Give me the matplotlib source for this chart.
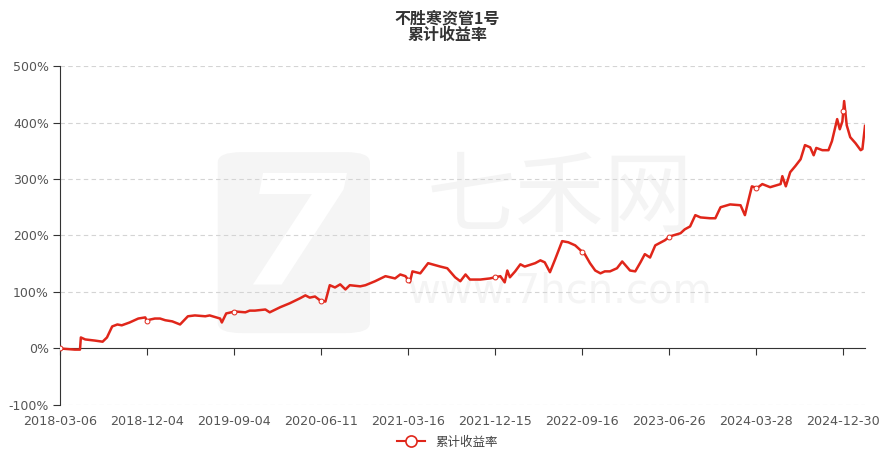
import matplotlib.pyplot as plt
import numpy as np
from matplotlib.patches import FancyBboxPatch

# 横轴：类目轴位置（以刻度间隔为单位），纵轴：累计收益率（%）
tick_labels = ["2018-03-06", "2018-12-04", "2019-09-04", "2020-06-11", "2021-03-16",
               "2021-12-15", "2022-09-16", "2023-06-26", "2024-03-28", "2024-12-30"]
pos = [0.00, 0.17, 0.23, 0.24, 0.29, 0.40, 0.49, 0.54, 0.60, 0.66, 0.71, 0.80, 0.90, 0.98,
       1.00, 1.03, 1.09, 1.15, 1.21, 1.29, 1.38, 1.47, 1.55, 1.67, 1.72, 1.84, 1.86, 1.91,
       2.01, 2.13, 2.18, 2.24, 2.36, 2.41, 2.53, 2.64, 2.76, 2.82, 2.87, 2.93, 2.99, 3.05,
       3.10, 3.16, 3.22, 3.28, 3.33, 3.45, 3.51, 3.62, 3.74, 3.85, 3.91, 3.97, 4.02, 4.05,
       4.14, 4.23, 4.37, 4.45, 4.54, 4.60, 4.66, 4.71, 4.83, 4.94, 5.06, 5.11, 5.14, 5.17,
       5.23, 5.29, 5.34, 5.46, 5.52, 5.57, 5.63, 5.69, 5.77, 5.84, 5.92, 5.98, 6.03, 6.09,
       6.15, 6.21, 6.26, 6.32, 6.40, 6.46, 6.55, 6.61, 6.67, 6.72, 6.78, 6.84, 6.95, 7.01,
       7.13, 7.18, 7.24, 7.30, 7.36, 7.47, 7.53, 7.59, 7.70, 7.82, 7.87, 7.91, 7.95, 8.01,
       8.07, 8.16, 8.28, 8.30, 8.34, 8.39, 8.45, 8.51, 8.56, 8.62, 8.66, 8.69, 8.76, 8.83,
       8.87, 8.93, 8.96, 8.99, 9.01, 9.04, 9.08, 9.14, 9.20, 9.22, 9.25]
ret = [0, -2, -2, 19.5, 16, 14, 12, 19.5, 39, 42.5, 41, 46, 53, 55,
       48, 51, 53, 53, 50, 48, 42.5, 57, 58.5, 57, 58.5, 53, 46, 62,
       65.5, 64, 67, 67, 69, 64, 73, 80, 89, 94, 90, 92, 85, 83,
       112, 108, 113.5, 104.5, 112, 110, 112, 119, 128, 124, 131, 128, 117, 136.5,
       133, 151, 145, 142, 126, 119, 131, 122, 122, 124, 128, 117, 138, 126,
       136.5, 149, 145, 151, 156, 152.5, 135, 158, 190, 188, 182.5, 174, 167, 151,
       138, 133, 136.5, 136.5, 142, 154, 138, 136.5, 152.5, 167, 161, 182.5, 191.5, 198.5,
       204, 211, 216, 236, 232, 230.5, 230.5, 250, 255, 253.5, 236, 262, 287, 284,
       291, 285.5, 291, 305, 287, 312, 323, 335, 360, 356, 342, 355, 351, 351,
       367, 406, 388, 402, 438, 395, 374, 363.5, 351, 353, 394]
y_ticks = [-100, 0, 100, 200, 300, 400, 500]

RED = "#e0261a"
plt.rcParams["font.family"] = ["Noto Sans CJK SC", "DejaVu Sans"]

fig = plt.figure(figsize=(8.95, 4.54), dpi=100)
ax = fig.add_axes([0.067, 0.108, 0.8995, 0.7466])

# 水印
ax.add_patch(FancyBboxPatch((0.196, 0.212), 0.189, 0.534, boxstyle="round,pad=0,rounding_size=0.03",
                            transform=ax.transAxes, fc="#f5f5f5", ec="none", zorder=0))
ax.text(0.29, 0.48, "7", transform=ax.transAxes, fontsize=110, color="white", fontweight="bold",
        style="italic", ha="center", va="center", family="DejaVu Sans", zorder=0)
ax.text(0.621, 0.605, "七禾网", transform=ax.transAxes, fontsize=64, color="#f4f4f4",
        ha="center", va="center", zorder=0)
ax.text(0.621, 0.335, "www.7hcn.com", transform=ax.transAxes, fontsize=29, color="#f4f4f4",
        ha="center", va="center", family="DejaVu Sans", zorder=0)

ax.plot(pos, ret, color=RED, lw=1.8, zorder=3)
tick_pos = np.arange(len(tick_labels))
ax.plot(tick_pos, np.interp(tick_pos, pos, ret), ls="none", marker="o", ms=3.5,
        mfc="white", mec=RED, mew=0.7, zorder=4)

for s in ["top", "right"]:
    ax.spines[s].set_visible(False)
ax.spines["bottom"].set_position(("data", 0))
ax.spines["bottom"].set_color("#333333")
ax.spines["left"].set_color("#333333")
ax.tick_params(axis="x", direction="out", length=5, color="#333333", labelcolor="#555555", pad=43)
ax.tick_params(axis="y", direction="out", length=5, color="#333333", labelcolor="#555555", pad=3)

ax.set_xlim(0, 9.25)
ax.set_ylim(-100, 500)
ax.spines["left"].set_bounds(-100, 500)
ax.set_yticks(y_ticks)
ax.set_yticklabels([f"{v}%" for v in y_ticks], family="DejaVu Sans", fontsize=9)
ax.set_xticks(tick_pos)
ax.set_xticklabels(tick_labels, family="DejaVu Sans", fontsize=9.2)

for v in y_ticks:
    if v != 0:
        ax.axhline(v, color="#d4d4d4", lw=0.8, ls=(0, (4, 3)), zorder=1)

fig.text(0.5, 0.960, "不胜寒资管1号", ha="center", va="center", fontsize=11.5,
         fontweight="bold", color="#333333")
fig.text(0.5, 0.922, "累计收益率", ha="center", va="center", fontsize=11.5,
         fontweight="bold", color="#333333")

fig.legend([plt.Line2D([], [], color=RED, lw=1.5, marker="o", ms=8, mfc="white", mec=RED, mew=1.2)],
           ["累计收益率"], loc="center", bbox_to_anchor=(0.5, 0.026), frameon=False,
           fontsize=9, handlelength=2.2, labelcolor="#444444")

fig.savefig("out.png", dpi=100)
